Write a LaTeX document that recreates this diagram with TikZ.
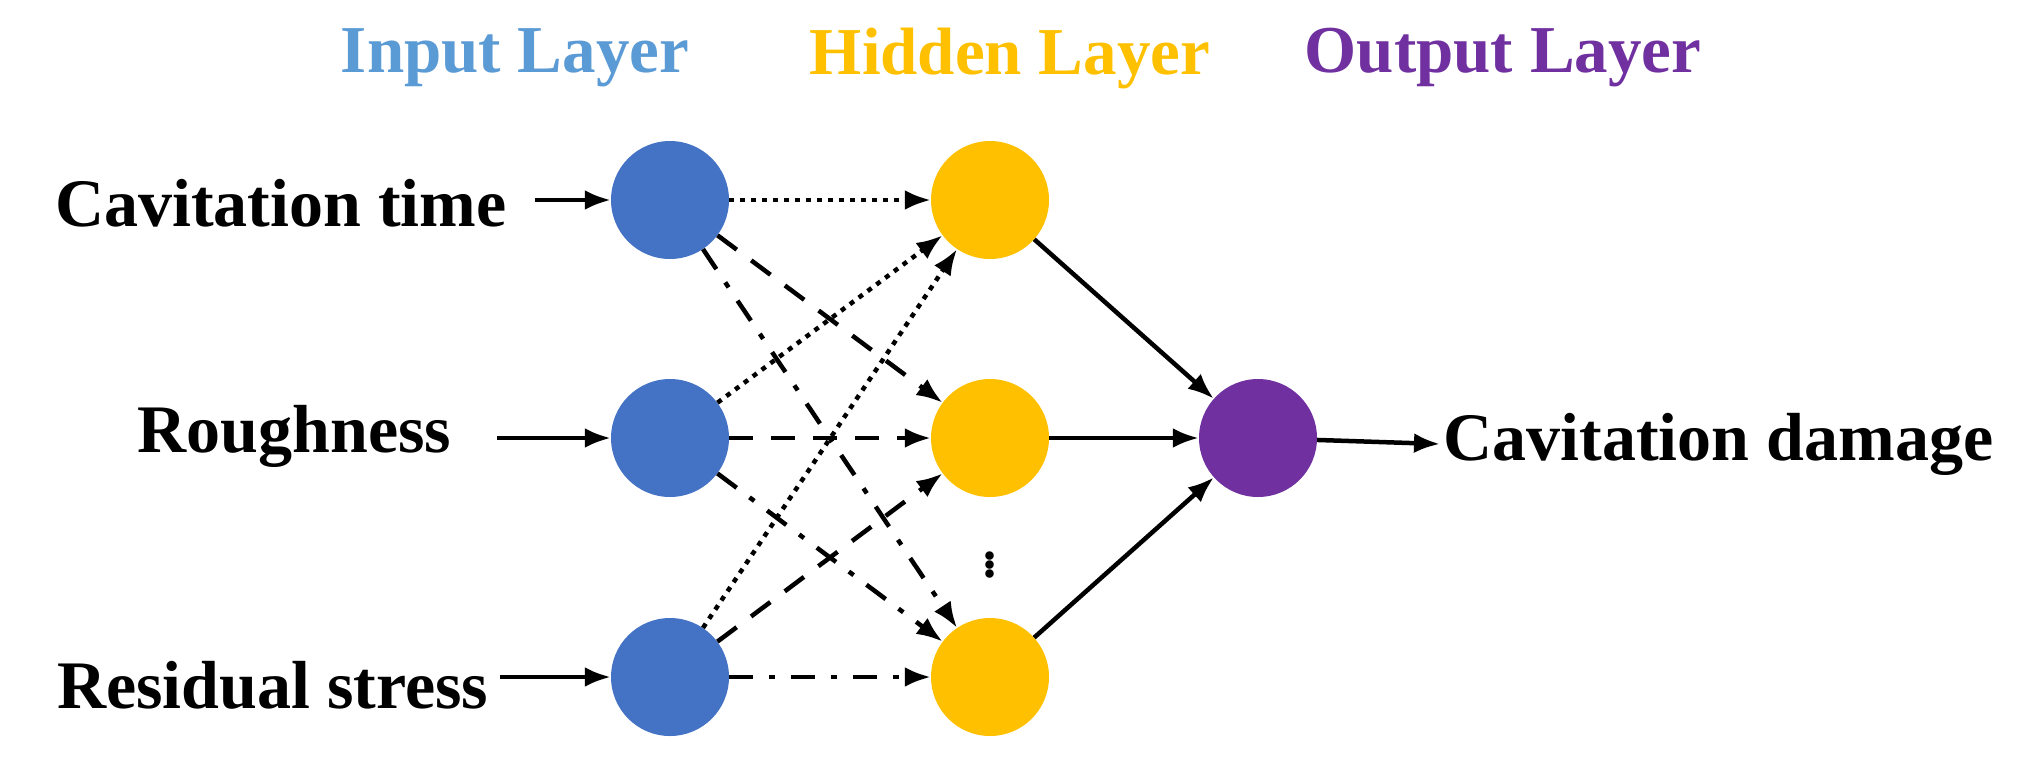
\documentclass[tikz,border=0pt]{standalone}
\usepackage{fontspec}
\setmainfont{Liberation Serif}
\usetikzlibrary{arrows.meta}
\begin{document}
\begin{tikzpicture}[x=1pt,y=-1pt,
  neuron/.style={circle,minimum size=118pt,inner sep=0pt},
  lbl/.style={font=\fontsize{68}{72}\selectfont\bfseries},
  hdr/.style={font=\fontsize{67}{72}\selectfont\bfseries},
  conn/.style={line width=4.5pt,-{Latex[length=26pt,width=20pt]}},
  dot/.style={conn,dash pattern=on 5pt off 6pt},
  dsh/.style={conn,dash pattern=on 24pt off 18pt},
  dd/.style={conn,dash pattern=on 24pt off 16pt on 6pt off 16pt}]
\useasboundingbox (0,0) rectangle (2017,780);
\definecolor{iblue}{HTML}{4472C4}
\definecolor{hblue}{HTML}{5B9BD5}
\definecolor{hyel}{HTML}{FFC000}
\definecolor{opur}{HTML}{7030A0}
\node[hdr,text=hblue] (hi) at (515,58) {Input Layer};
\node[hdr,text=hyel] (hh) at (1010,58) {Hidden Layer};
\node[hdr,text=opur] (ho) at (1503,58) {Output Layer};
\node[neuron,fill=iblue] (i1) at (670,200) {};
\node[neuron,fill=iblue] (i2) at (670,438) {};
\node[neuron,fill=iblue] (i3) at (670,677) {};
\node[neuron,fill=hyel] (h1) at (990,200) {};
\node[neuron,fill=hyel] (h2) at (990,438) {};
\node[neuron,fill=hyel] (h3) at (990,677) {};
\node[neuron,fill=opur] (o) at (1258,438) {};
\node[lbl,anchor=east] (l1) at (510,203) {Cavitation time};
\node[lbl,anchor=east] (l2) at (455,436) {Roughness};
\node[lbl,anchor=east] (l3) at (492,685) {Residual stress};
\node[lbl,anchor=west] (lo) at (1440,444) {Cavitation damage};
\node[font=\fontsize{52}{52}\selectfont\bfseries] (vd) at (990,562) {\vdots};
\coordinate (a1) at (535,200);
\coordinate (a2) at (497,438);
\coordinate (a3) at (500,677);
\draw[conn] (a1) -- (i1);
\draw[conn] (a2) -- (i2);
\draw[conn] (a3) -- (i3);
\foreach \i in {1,2,3}{
  \draw[dot] (i\i) -- (h1);
  \draw[dsh] (i\i) -- (h2);
  \draw[dd] (i\i) -- (h3);
  \draw[conn] (h\i) -- (o);
}
\draw[conn] (o) -- (lo.west);
\end{tikzpicture}
\end{document}
